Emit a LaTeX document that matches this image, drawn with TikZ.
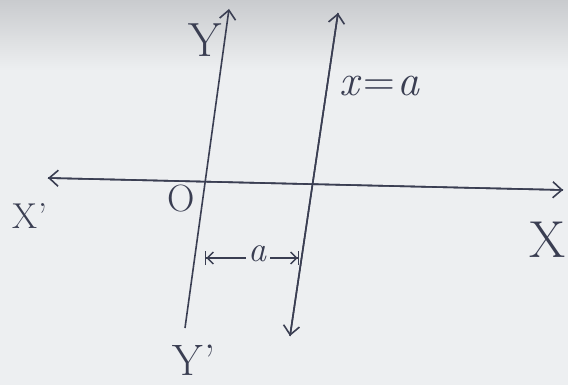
\documentclass[tikz,border=0pt]{standalone}
\usetikzlibrary{arrows.meta}
\definecolor{ink}{HTML}{3A3E52}
\definecolor{paper}{HTML}{EDEFF1}
\definecolor{paperdark}{HTML}{C9CBCE}
\begin{document}
\begin{tikzpicture}[x=1pt,y=-1pt,
  axis/.style={draw=ink,line width=1.6pt},
  tip/.style={-{Straight Barb[length=9pt,width=16pt,line width=1.6pt]}},
  lbl/.style={text=ink,inner sep=0pt}]
\useasboundingbox (0,0) rectangle (568,385);
\fill[paper] (0,0) rectangle (568,385);
\shade[top color=paperdark,bottom color=paper] (0,0) rectangle (568,70);
% end points
\coordinate (xl) at (48,178);
\coordinate (xr) at (563,190);
\coordinate (yt) at (229,9);
\coordinate (yb) at (185,328);
\coordinate (at) at (338,13);
\coordinate (ab) at (290,336);
% axes
\draw[axis,tip] (xl) -- (xr);
\draw[axis,tip] (xr) -- (xl);
\draw[axis,tip] (yb) -- (yt);
\draw[axis,tip] (ab) -- (at);
\draw[axis,tip] (at) -- (ab);
% labels
\node[lbl,font=\fontsize{48}{52}\selectfont] (lY) at (205,40) {Y};
\node[lbl,font=\fontsize{44}{50}\selectfont] (lxa) at (380,86) {\textit{x}\kern2pt=\kern2pt\textit{a}};
\node[lbl,font=\fontsize{38}{40}\selectfont] (lO) at (181,199) {O};
\node[lbl,font=\fontsize{36}{38}\selectfont] (lXp) at (30,216) {X\kern1pt'};
\node[lbl,font=\fontsize{52}{56}\selectfont] (lX) at (548,240) {X};
\node[lbl,font=\fontsize{44}{48}\selectfont] (lYp) at (194,360) {Y\kern1pt'};
% distance a
\node[lbl,font=\fontsize{36}{38}\selectfont] (la) at (258,254) {\textit{a}};
\coordinate (dl) at (205,258);
\coordinate (dr) at (299,258);
\draw[draw=ink,line width=1.4pt,arrows={Bar[width=14pt] Straight Barb[length=6pt,width=12pt]-}] (dl) -- ([xshift=-3pt]la.west |- dl);
\draw[draw=ink,line width=1.4pt,arrows={-Straight Barb[length=6pt,width=12pt] Bar[width=14pt]}] ([xshift=3pt]la.east |- dr) -- (dr);
\end{tikzpicture}
\end{document}
